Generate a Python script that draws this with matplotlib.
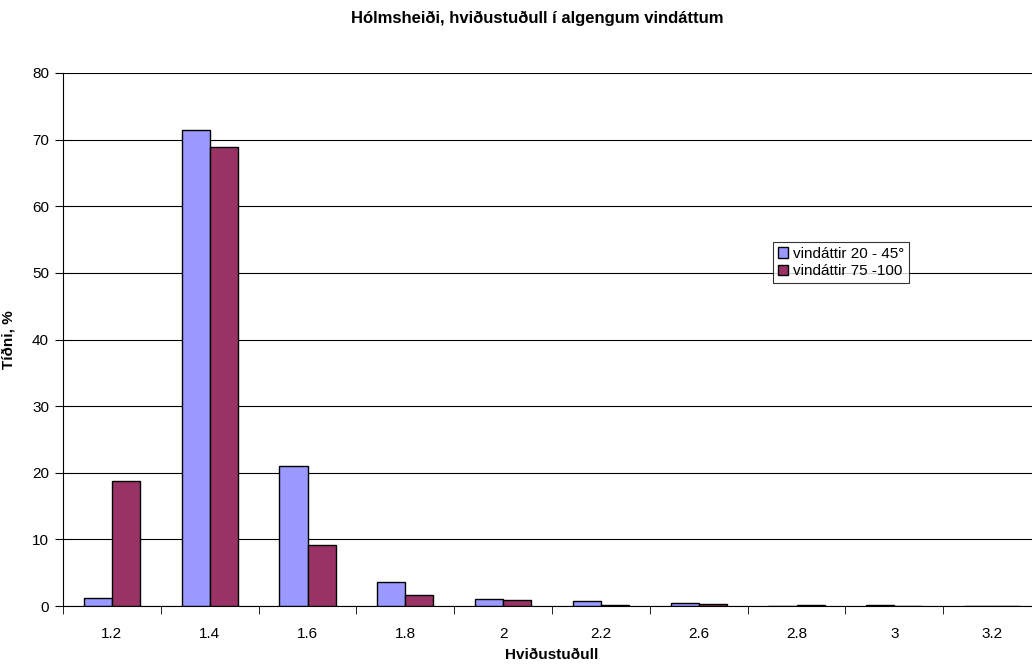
import numpy as np
import matplotlib.pyplot as plt

plt.rcParams['font.family'] = ['Liberation Sans', 'DejaVu Sans']

flokkar = ['1.2', '1.4', '1.6', '1.8', '2', '2.2', '2.6', '2.8', '3', '3.2']
blar = [1.2, 71.5, 21.0, 3.6, 1.1, 0.8, 0.5, 0.0, 0.1, 0.0]
rauđur = [18.8, 68.9, 9.2, 1.6, 0.9, 0.15, 0.25, 0.1, 0.0, 0.0]

my_dpi = 100
fig = plt.figure(figsize=(1032/my_dpi, 664/my_dpi), dpi=my_dpi)
# plot area runs a little past the right edge of the picture, as in the original
ax = fig.add_axes([63/1032, 58/664, 978/1032, 533/664])

x = np.arange(len(flokkar))
w = 0.287
ax.bar(x - w/2, blar, w, color='#9999FF', edgecolor='black', linewidth=1, label='vindáttir 20 - 45°', zorder=3)
ax.bar(x + w/2, rauđur, w, color='#993366', edgecolor='black', linewidth=1, label='vindáttir 75 -100', zorder=3)

ax.set_xlim(-0.5, len(flokkar) - 0.5)
ax.set_ylim(0, 80)
ax.set_yticks(np.arange(0, 81, 10))
ax.set_xticks(x)
ax.set_xticklabels(flokkar)
ax.set_xticks(np.arange(-0.5, len(flokkar)), minor=True)
ax.tick_params(axis='x', which='major', length=0, pad=15, labelsize=11)
ax.tick_params(axis='x', which='minor', length=6, direction='out')
ax.tick_params(axis='y', length=6, direction='out', labelsize=11, pad=4)
ax.yaxis.grid(True, color='black', linewidth=0.8, zorder=0)
ax.spines['top'].set_visible(False)
ax.spines['right'].set_visible(False)

ax.set_xlabel('Hviðustuðull', fontweight='bold', fontsize=11, labelpad=5)
ax.set_ylabel('Tíðni, %', fontweight='bold', fontsize=11, labelpad=12)
fig.text(537/1032, 1 - 18/664, 'Hólmsheiði, hviðustuðull í algengum vindáttum', fontweight='bold',
         fontsize=12, ha='center', va='center')

leg = ax.legend(loc='upper left', bbox_to_anchor=((773-63)/978, (606-242)/533), frameon=True, fancybox=False,
                edgecolor='black', fontsize=11, handlelength=0.7, handleheight=0.7, handletextpad=0.3,
                borderpad=0.3, labelspacing=0.25, borderaxespad=0)
leg.get_frame().set_linewidth(0.8)

plt.savefig('out.png', dpi=my_dpi)
